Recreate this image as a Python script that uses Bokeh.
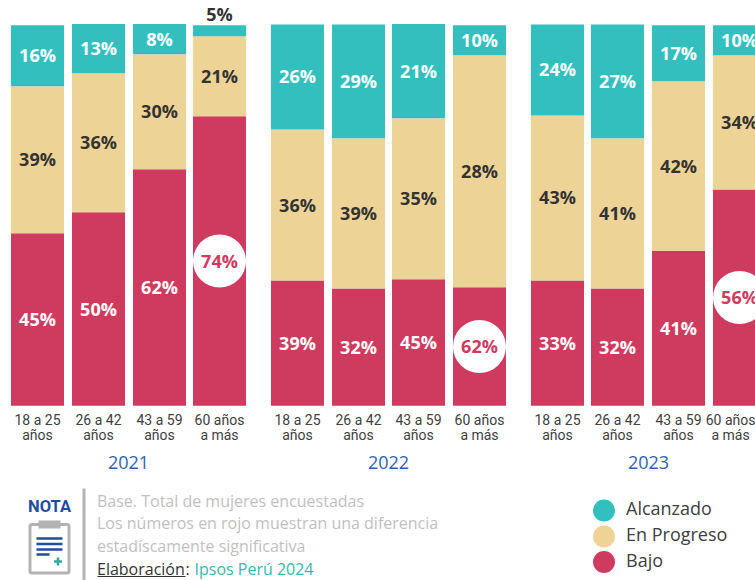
from bokeh.plotting import figure
from bokeh.embed import file_html
from bokeh.resources import INLINE
from bokeh.layouts import column
from bokeh.models import Range1d, FixedTicker, ColumnDataSource, AllLabels
from bokeh.core.properties import value

# ---- data -------------------------------------------------------------
age_groups = ["18 a 25\naños", "26 a 42\naños", "43 a 59\naños", "60 años\na más"]
years = ["2021", "2022", "2023"]
series = ["Bajo", "En Progreso", "Alcanzado"]

# segment sizes as drawn (share of bar height)
bajo_drawn = [45.3, 50.8, 62.1, 76.0, 32.9, 30.8, 33.2, 31.1, 32.9, 30.8, 40.6, 56.8]
progreso_drawn = [38.6, 36.5, 30.2, 21.0, 39.6, 39.4, 42.3, 60.9, 43.3, 39.4, 44.6, 35.2]
alcanzado_drawn = [16.0, 12.9, 7.9, 2.9, 27.6, 29.9, 24.7, 7.9, 23.9, 29.9, 14.7, 7.9]

# printed labels
bajo_labels = [45, 50, 62, 74, 39, 32, 45, 62, 33, 32, 41, 56]
progreso_labels = [39, 36, 30, 21, 36, 39, 35, 28, 43, 41, 42, 34]
alcanzado_labels = [16, 13, 8, 5, 26, 29, 21, 10, 24, 27, 17, 10]
bajo_significant = [False, False, False, True, False, False, False, True, False, False, False, True]

note_lines = ["Base. Total de mujeres encuestadas",
              "Los números en rojo muestran una diferencia",
              "estadíscamente significativa"]

# ---- style / layout ----------------------------------------------------
TEAL, GOLD, RED = "#34BFBF", "#EDD496", "#CF3B5F"
DARK = "#333333"
FONT = "Open Sans"
NARROW = "Roboto"
bar_centers = [37.5, 98.5, 159.5, 219.5, 297.5, 358.5, 418.5, 479.5, 557.5, 617.5, 678.5, 739.5]
year_centers = [128, 388, 648]

top = figure(width=755, height=450, output_backend="svg", toolbar_location=None,
             x_range=Range1d(0.5, 755.5), y_range=Range1d(-0.7 / 3.81, 405.3 / 3.81),
             min_border_left=0, min_border_right=0, min_border_top=0, min_border_bottom=44)
top.outline_line_color = None
top.grid.visible = False
top.yaxis.visible = False
ax = top.xaxis[0]
ax.ticker = FixedTicker(ticks=bar_centers)
ax.major_label_overrides = {c: age_groups[i % 4] for i, c in enumerate(bar_centers)}
ax.major_label_policy = AllLabels()
ax.axis_line_color = None
ax.major_tick_line_color = None
ax.minor_tick_line_color = None
ax.major_tick_out = 0
ax.major_tick_in = 0
ax.major_label_text_font = NARROW
ax.major_label_text_font_size = "14px"
ax.major_label_text_color = "#404040"
ax.major_label_text_line_height = 0.95
ax.major_label_standoff = 5

b1 = bajo_drawn
b2 = [a + b for a, b in zip(b1, progreso_drawn)]
b3 = [a + b for a, b in zip(b2, alcanzado_drawn)]
zeros = [0] * len(b1)
top.vbar(x=bar_centers, width=53, bottom=zeros, top=b1, fill_color=RED, line_color=None)
top.vbar(x=bar_centers, width=53, bottom=b1, top=b2, fill_color=GOLD, line_color=None)
top.vbar(x=bar_centers, width=53, bottom=b2, top=b3, fill_color=TEAL, line_color=None)

# highlight circles
hx = [x for x, s in zip(bar_centers, bajo_significant) if s]
hy = [t / 2 for t, s in zip(b1, bajo_significant) if s]
top.scatter(x=hx, y=hy, size=53, marker="circle", fill_color="white", line_color=None)


def labels(xs, ys, nums, colors, y_offset=-0.5):
    src = ColumnDataSource(dict(x=xs, y=ys, t=[f"{n}%" for n in nums], c=colors))
    top.text(x="x", y="y", text="t", text_color="c", source=src, y_offset=y_offset,
             text_align="center", text_baseline="middle",
             text_font=value(FONT), text_font_style="bold", text_font_size="18px")


labels(bar_centers, [t / 2 for t in b1], bajo_labels,
       [RED if s else "white" for s in bajo_significant])
labels(bar_centers, [(a + b) / 2 for a, b in zip(b1, b2)], progreso_labels, [DARK] * 12)
big = [i for i, n in enumerate(alcanzado_labels) if n >= 8]
labels([bar_centers[i] for i in big], [(b2[i] + b3[i]) / 2 for i in big],
       [alcanzado_labels[i] for i in big], ["white"] * len(big))
small = [i for i, n in enumerate(alcanzado_labels) if n < 8]
labels([bar_centers[i] for i in small], [b3[i] for i in small],
       [alcanzado_labels[i] for i in small], [DARK] * len(small), y_offset=-11)

# ---- footer: coordinates here are page pixels -------------------------
bot = figure(width=755, height=130, output_backend="svg", toolbar_location=None,
             x_range=Range1d(0, 755), y_range=Range1d(580, 450),
             min_border_left=0, min_border_right=0, min_border_top=0, min_border_bottom=0)
bot.outline_line_color = None
bot.grid.visible = False
bot.axis.visible = False


def txt(x, y, s, color, size, font=FONT, align="left", style="normal"):
    bot.text(x=[x], y=[y], text=[s], text_color=color, text_font=value(font),
             text_font_size=size, text_align=align, text_baseline="middle",
             text_font_style=style)


for x, yr in zip(year_centers, years):
    txt(x, 462, yr, "#2F5FB3", "18px", align="center")

# legend
for y, name, col in zip([561.5, 536, 510], series, [RED, GOLD, TEAL]):
    bot.scatter(x=[603.5], y=[y], size=22, marker="circle", fill_color=col, line_color=None)
    txt(625.5, y - 2.5, name, "#404040", "18px")

# note text
for y, s in zip([500, 522, 545], note_lines):
    txt(96.5, y, s, "#BFBFBF", "16px")
txt(96.5, 568, "Elaboración", DARK, "16px")
bot.segment(x0=[97], y0=[576], x1=[185], y1=[576], line_color=DARK, line_width=1)
txt(185, 568, ":", DARK, "16px")
txt(194, 568, "Ipsos Perú 2024", "#3AB5B0", "16px")

# divider
bot.quad(left=[82], right=[85], top=[488], bottom=[580], fill_color="#B3B3B3", line_color=None)

# NOTA icon
txt(49, 505.5, "NOTA", "#1F4E9E", "16.5px", font=NARROW, align="center", style="bold")
bot.quad(left=[29.5], right=[68.5], top=[524], bottom=[572.5], fill_color="white",
         line_color="#B3B3B3", line_width=3, border_radius=2)
bot.quad(left=[38], right=[60], top=[520], bottom=[528], fill_color="#B3B3B3", line_color=None)
bot.segment(x0=[36, 36, 36, 36], y0=[538, 543.5, 549, 554], x1=[62, 62, 62, 49], y1=[538, 543.5, 549, 554],
            line_color="#1F4E9E", line_width=2.5)
bot.segment(x0=[53.5, 57.5], y0=[561, 557], x1=[61.5, 57.5], y1=[561, 565], line_color="#2FA9A5", line_width=2.5)

page = column(top, bot, spacing=0)
open("out.html", "w").write(file_html(page, INLINE))
